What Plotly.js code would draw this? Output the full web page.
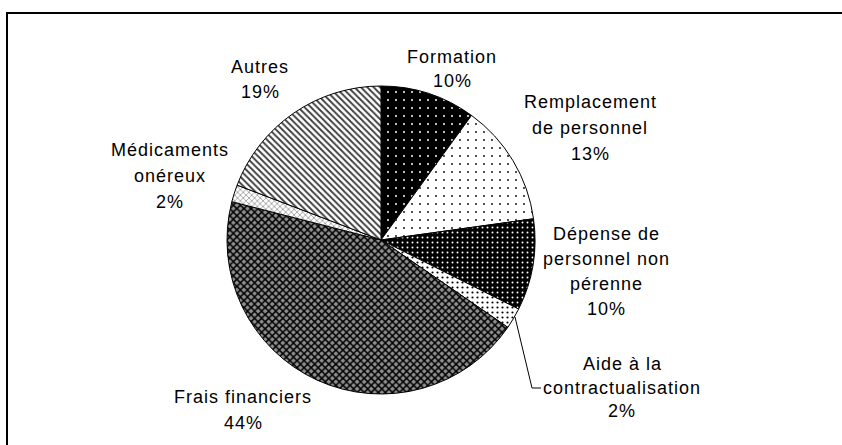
<!DOCTYPE html>
<html>
<head>
<meta charset="utf-8">
<script src="https://cdn.plot.ly/plotly-3.0.1.min.js"></script>
<style>
  html, body { margin: 0; padding: 0; background: #fff; }
  #chart { width: 842px; height: 445px; }
  .annotation-text { letter-spacing: 1px; }
</style>
</head>
<body>
<div id="chart"></div>
<script>
// ---- Data ----
const categories = [
  "Formation",
  "Remplacement de personnel",
  "Dépense de personnel non pérenne",
  "Aide à la contractualisation",
  "Frais financiers",
  "Médicaments onéreux",
  "Autres"
];
const values = [10.0, 12.8, 9.6, 2.2, 44.4, 1.8, 19.2];
// Label text as it is broken into lines in the reference
const labelLines = [
  ["Formation"],
  ["Remplacement", "de personnel"],
  ["Dépense de", "personnel non", "pérenne"],
  ["Aide à la", "contractualisation"],
  ["Frais financiers"],
  ["Médicaments", "onéreux"],
  ["Autres"]
];

// ---- Styling / layout (pixels in the 842x445 picture) ----
const W = 842, H = 445;
const px = x => x / W;
const py = y => 1 - y / H;

// pattern fills per slice (black & white hatching)
const patShape = [".", ".", ".", ".", "x", "x", "\\"];
const patBg    = ["#000000", "#ffffff", "#000000", "#ffffff", "#8e8e8e", "#ffffff", "#ffffff"];
const patFg    = ["#ffffff", "#000000", "#ffffff", "#000000", "#000000", "#808080", "#3a3a3a"];
const patSize  = [8, 8, 5, 5, 5, 4, 4.5];
const patSol   = [0.05, 0.04, 0.12, 0.15, 0.5, 0.3, 0.4];

// label block anchors: centre x, y of first line, line step
const labelPos = [
  {x: 452, y: 57,  dy: 24},
  {x: 590, y: 102, dy: 26},
  {x: 606, y: 234, dy: 25},
  {x: 622, y: 364, dy: 23.5},
  {x: 243, y: 397, dy: 26},
  {x: 170, y: 150, dy: 26},
  {x: 260, y: 67,  dy: 25}
];

const total = values.reduce((a, b) => a + b, 0);
const annotations = [];
categories.forEach((c, i) => {
  const lines = labelLines[i].concat([Math.round(values[i] / total * 100) + "%"]);
  lines.forEach((t, k) => {
    annotations.push({
      xref: "paper", yref: "paper",
      x: px(labelPos[i].x), y: py(labelPos[i].y + k * labelPos[i].dy),
      xanchor: "center", yanchor: "middle",
      text: t, showarrow: false,
      font: {family: "Liberation Sans, Arial, sans-serif", size: 18, color: "#000"}
    });
  });
});

const trace = {
  type: "pie",
  labels: categories,
  values: values,
  sort: false,
  direction: "clockwise",
  rotation: 0,
  textinfo: "none",
  hoverinfo: "label+percent",
  showlegend: false,
  domain: {x: [px(227), px(535)], y: [py(394), py(86)]},
  marker: {
    colors: patBg,
    line: {color: "#000", width: 1},
    pattern: {
      shape: patShape,
      bgcolor: patBg,
      fgcolor: patFg,
      size: patSize,
      solidity: patSol,
      fillmode: "replace"
    }
  }
};

const layout = {
  width: W, height: H,
  margin: {l: 0, r: 0, t: 0, b: 0},
  paper_bgcolor: "#fff",
  plot_bgcolor: "#fff",
  showlegend: false,
  annotations: annotations,
  shapes: [
    // outer chart frame (runs off the right and bottom edges)
    {type: "rect", xref: "paper", yref: "paper",
     x0: px(7), x1: 1.02, y0: -0.02, y1: py(13),
     line: {color: "#000", width: 2}, fillcolor: "rgba(0,0,0,0)"},
    // leader line to "Aide à la contractualisation"
    {type: "path", xref: "paper", yref: "paper",
     path: "M " + px(515) + " " + py(317) + " L " + px(532) + " " + py(388) + " L " + px(541) + " " + py(388),
     line: {color: "#000", width: 1}}
  ]
};

Plotly.newPlot("chart", [trace], layout, {displayModeBar: false, staticPlot: true});
</script>
</body>
</html>
